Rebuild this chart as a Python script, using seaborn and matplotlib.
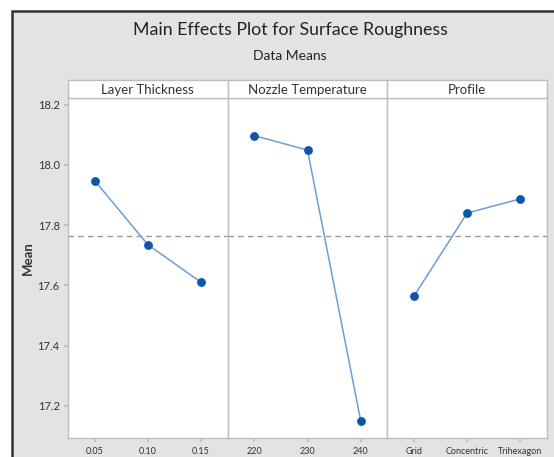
import numpy as np
import pandas as pd
import matplotlib
matplotlib.use("Agg")
import matplotlib.pyplot as plt
from matplotlib.patches import Rectangle
import seaborn as sns

# Factor names and level means of the response (surface roughness)
factors = ["Layer Thickness", "Nozzle Temperature", "Profile"]
layer_levels = ["0.05", "0.10", "0.15"]
layer_means = [17.948, 17.735, 17.610]
nozzle_levels = ["220", "230", "240"]
nozzle_means = [18.097, 18.049, 17.150]
profile_levels = ["Grid", "Concentric", "Trihexagon"]
profile_means = [17.564, 17.840, 17.887]
y_ticks = [17.2, 17.4, 17.6, 17.8, 18.0, 18.2]

levels = [layer_levels, nozzle_levels, profile_levels]
means = [layer_means, nozzle_means, profile_means]
grand_mean = np.mean(np.concatenate(means))

sns.set_theme(style="white")
plt.rcParams["font.family"] = ["Lato", "DejaVu Sans"]

W, H = 554, 457
fig = plt.figure(figsize=(W / 100, H / 100), dpi=100, facecolor="white")

# grey framed background of the plot window
fig.patches.append(Rectangle((12 / W, -0.1), 1.2, 1 - 11 / H + 0.1,
                             transform=fig.transFigure, facecolor="#e3e3e3",
                             edgecolor="#333333", lw=1.8, zorder=-10))

left, right = 68 / W, 547 / W
bottom, top = 1 - 438 / H, 1 - 98 / H
strip_top = 1 - 80 / H
pw = (right - left) / 3

line_c = "#6a9fd8"
dot_c = "#0b56a8"
frame_c = "#bdbdbd"
text_c = "#333333"

for i, (name, lv, mv) in enumerate(zip(factors, levels, means)):
    ax = fig.add_axes([left + i * pw, bottom, pw, top - bottom])
    ax.set_facecolor("white")
    df = pd.DataFrame({"level": lv, "mean": mv})
    sns.lineplot(data=df, x="level", y="mean", ax=ax, color=line_c,
                 lw=1.1, sort=False, zorder=2)
    sns.scatterplot(data=df, x="level", y="mean", ax=ax, color=dot_c,
                    edgecolor=dot_c, s=34, zorder=3)
    ax.axhline(grand_mean, color="#9a9a9a", lw=1, dashes=(4, 3), zorder=1)
    ax.set_xlim(-0.5, 2.5)
    ax.set_ylim(17.093, 18.222)
    ax.set_yticks(y_ticks)
    ax.set_xlabel("")
    ax.set_ylabel("")
    for s in ax.spines.values():
        s.set_color(frame_c)
        s.set_linewidth(1)
    ax.tick_params(axis="x", bottom=True, direction="out", length=3,
                   color=frame_c, labelsize=6.5, labelcolor=text_c, pad=3.5)
    if i == 0:
        ax.set_yticklabels([f"{t:.1f}" for t in y_ticks])
        ax.tick_params(axis="y", left=True, direction="out", length=3,
                       color=frame_c, labelsize=8, labelcolor=text_c, pad=3)
    else:
        ax.tick_params(axis="y", left=False, labelleft=False)

    # factor header strip
    sax = fig.add_axes([left + i * pw, top, pw, strip_top - top])
    sax.set_facecolor("white")
    sax.set_xticks([])
    sax.set_yticks([])
    for s in sax.spines.values():
        s.set_color(frame_c)
        s.set_linewidth(1)
    sax.text(0.5, 0.45, name, ha="center", va="center", fontsize=9.5,
             color=text_c, transform=sax.transAxes)

fig.text(28 / W, 1 - 258 / H, "Mean", rotation=90, ha="center", va="center",
         fontsize=9.5, fontweight="bold", color=text_c)
fig.text(290 / W, 1 - 30 / H, "Main Effects Plot for Surface Roughness",
         ha="center", va="center", fontsize=12.8, color="#222222")
fig.text(290 / W, 1 - 56 / H, "Data Means", ha="center", va="center",
         fontsize=10, color="#222222")

fig.savefig("out.png", dpi=100, facecolor="white")
